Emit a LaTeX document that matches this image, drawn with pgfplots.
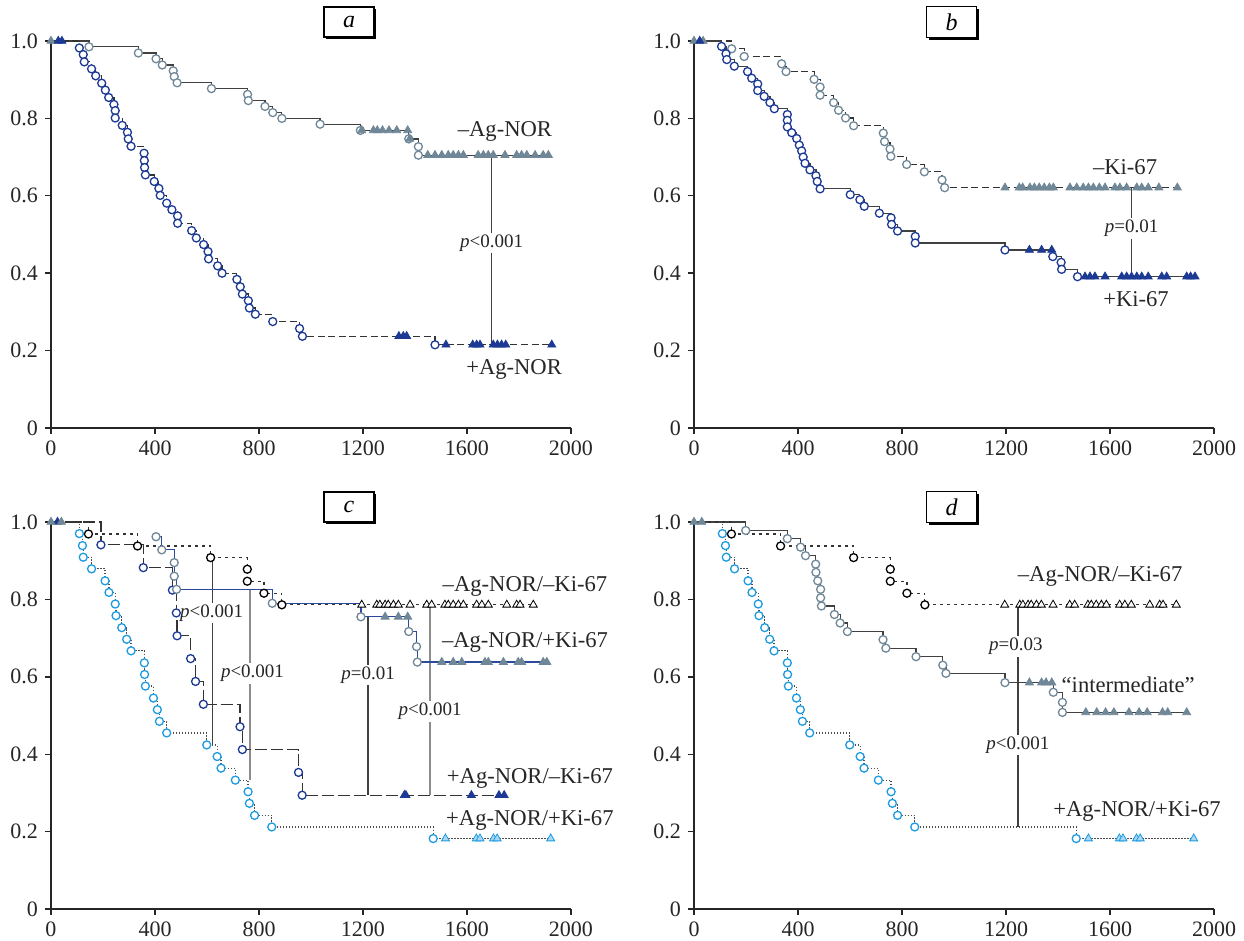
\documentclass[border=0pt]{standalone}
\usepackage{fontspec}
\setmainfont{Liberation Serif}
\usepackage{pgfplots}
\usepackage{pgfplotstable}
\pgfplotsset{compat=1.18}
\usetikzlibrary{shadows}

\definecolor{cGray}{HTML}{6F8797}
\definecolor{cNavy}{HTML}{1C3A94}
\definecolor{cCyan}{HTML}{1E9BE0}
\definecolor{cCyanF}{HTML}{A8D8F4}
\definecolor{cBlue}{HTML}{2C4A9C}

% Kaplan-Meier tables: t = days, s = survival, m = e (event) / c (censored) / n (no mark)
\pgfplotstableread{
t s m
0 1 c
146 0.985 e
336 0.969 e
404 0.954 e
428 0.938 e
470 0.923 e
474 0.908 e
485 0.892 e
617 0.877 e
756 0.862 e
759 0.846 e
823 0.831 e
853 0.815 e
888 0.800 e
1035 0.785 e
1190 0.769 e
1195 0.769 c
1240 0.769 c
1255 0.769 c
1275 0.769 c
1300 0.769 c
1330 0.769 c
1372 0.769 c
1376 0.747 e
1380 0.747 c
1413 0.727 e
1413 0.705 e
1449 0.705 c
1477 0.705 c
1503 0.705 c
1528 0.705 c
1547 0.705 c
1567 0.705 c
1586 0.705 c
1643 0.705 c
1663 0.705 c
1682 0.705 c
1701 0.705 c
1746 0.705 c
1791 0.705 c
1810 0.705 c
1830 0.705 c
1862 0.705 c
1893 0.705 c
1913 0.705 c
}\tAminus
\pgfplotstableread{
t s m
0 1 n
28 1 c
42 1 c
109 0.982 e
124 0.965 e
128 0.946 e
156 0.928 e
172 0.910 e
195 0.891 e
209 0.873 e
222 0.854 e
242 0.836 e
247 0.820 e
247 0.801 e
274 0.782 e
294 0.764 e
297 0.747 e
308 0.728 e
358 0.710 e
359 0.691 e
360 0.673 e
363 0.654 e
397 0.637 e
415 0.619 e
420 0.601 e
445 0.581 e
465 0.564 e
487 0.548 e
487 0.529 e
541 0.510 e
559 0.491 e
587 0.474 e
604 0.456 e
606 0.437 e
641 0.419 e
658 0.400 e
715 0.384 e
728 0.365 e
736 0.346 e
759 0.329 e
763 0.310 e
786 0.294 e
853 0.275 e
956 0.257 e
967 0.237 e
1338 0.237 c
1355 0.237 c
1368 0.237 c
1477 0.215 e
1519 0.215 c
1622 0.215 c
1637 0.215 c
1650 0.215 c
1701 0.215 c
1717 0.215 c
1733 0.215 c
1749 0.215 c
1926 0.215 c
}\tAplus
\pgfplotstableread{
t s m
0 1 c
35 1 c
145 0.980 e
193 0.960 e
337 0.941 e
354 0.921 e
462 0.901 e
485 0.881 e
485 0.860 e
537 0.841 e
556 0.821 e
583 0.801 e
614 0.781 e
728 0.762 e
733 0.740 e
754 0.721 e
757 0.702 e
818 0.681 e
886 0.662 e
954 0.641 e
964 0.621 e
1196 0.621 c
1251 0.621 c
1264 0.621 c
1292 0.621 c
1309 0.621 c
1328 0.621 c
1347 0.621 c
1367 0.621 c
1382 0.621 c
1446 0.621 c
1472 0.621 c
1497 0.621 c
1517 0.621 c
1536 0.621 c
1559 0.621 c
1581 0.621 c
1619 0.621 c
1638 0.621 c
1664 0.621 c
1703 0.621 c
1722 0.621 c
1747 0.621 c
1788 0.621 c
1859 0.621 c
}\tBminus
\pgfplotstableread{
t s m
0 1 n
22 1 c
106 0.986 e
123 0.967 e
126 0.952 e
155 0.935 e
206 0.921 e
222 0.904 e
245 0.889 e
245 0.872 e
270 0.857 e
292 0.841 e
309 0.825 e
359 0.810 e
359 0.795 e
359 0.778 e
376 0.763 e
395 0.748 e
405 0.731 e
414 0.716 e
420 0.700 e
427 0.684 e
446 0.667 e
469 0.652 e
474 0.637 e
485 0.618 e
601 0.603 e
638 0.590 e
655 0.573 e
713 0.555 e
758 0.543 e
760 0.526 e
783 0.509 e
851 0.495 e
851 0.478 e
1196 0.460 e
1290 0.460 c
1337 0.460 c
1376 0.460 c
1380 0.443 e
1412 0.428 e
1414 0.410 e
1475 0.391 e
1504 0.391 c
1523 0.391 c
1542 0.391 c
1581 0.391 c
1645 0.391 c
1664 0.391 c
1683 0.391 c
1703 0.391 c
1722 0.391 c
1747 0.391 c
1799 0.391 c
1818 0.391 c
1895 0.391 c
1910 0.391 c
1927 0.391 c
}\tBplus
\pgfplotstableread{
t s m
0 1 n
144 0.969 e
333 0.938 e
614 0.908 e
755 0.878 e
755 0.847 e
819 0.816 e
888 0.786 e
1195 0.786 c
1253 0.786 c
1265 0.786 c
1285 0.786 c
1297 0.786 c
1317 0.786 c
1336 0.786 c
1381 0.786 c
1445 0.786 c
1464 0.786 c
1515 0.786 c
1528 0.786 c
1547 0.786 c
1567 0.786 c
1586 0.786 c
1637 0.786 c
1657 0.786 c
1682 0.786 c
1753 0.786 c
1791 0.786 c
1804 0.786 c
1855 0.786 c
}\tMM
\pgfplotstableread{
t s m
0 1 c
40 1 c
404 0.962 e
426 0.928 e
474 0.895 e
474 0.860 e
483 0.826 e
851 0.790 e
1192 0.755 e
1285 0.755 c
1336 0.755 c
1372 0.755 c
1376 0.717 e
1406 0.678 e
1409 0.638 e
1503 0.638 c
1547 0.638 c
1580 0.638 c
1669 0.638 c
1682 0.638 c
1740 0.638 c
1797 0.638 c
1810 0.638 c
1893 0.638 c
1907 0.638 c
}\tMP
\pgfplotstableread{
t s m
0 1 n
25 1 c
192 0.941 e
355 0.882 e
467 0.824 e
482 0.765 e
485 0.706 e
537 0.647 e
556 0.588 e
586 0.529 e
727 0.471 e
736 0.412 e
952 0.353 e
966 0.294 e
1359 0.294 c
1365 0.294 c
1617 0.294 c
1723 0.294 c
1743 0.294 c
}\tPM
\pgfplotstableread{
t s m
0 1 n
109 0.970 e
121 0.939 e
124 0.909 e
156 0.879 e
208 0.848 e
223 0.818 e
247 0.788 e
250 0.758 e
272 0.727 e
291 0.697 e
308 0.667 e
359 0.636 e
360 0.606 e
363 0.576 e
394 0.545 e
409 0.515 e
417 0.485 e
445 0.455 e
599 0.424 e
639 0.394 e
654 0.364 e
709 0.333 e
758 0.303 e
763 0.273 e
783 0.242 e
849 0.212 e
1470 0.182 e
1517 0.182 c
1636 0.182 c
1650 0.182 c
1702 0.182 c
1716 0.182 c
1922 0.182 c
}\tPP
\pgfplotstableread{
t s m
0 1 c
30 1 c
199 0.978 e
359 0.957 e
410 0.935 e
429 0.913 e
468 0.891 e
469 0.870 e
476 0.848 e
487 0.826 e
487 0.804 e
490 0.783 e
540 0.761 e
562 0.739 e
590 0.717 e
727 0.696 e
738 0.674 e
854 0.652 e
957 0.630 e
969 0.609 e
1196 0.585 e
1290 0.585 c
1337 0.585 c
1354 0.585 c
1376 0.585 c
1382 0.560 e
1417 0.534 e
1417 0.508 e
1507 0.508 c
1549 0.508 c
1583 0.508 c
1615 0.508 c
1673 0.508 c
1712 0.508 c
1743 0.508 c
1802 0.508 c
1822 0.508 c
1895 0.508 c
}\tInt

\pgfplotsset{
  km/.style={scale only axis, width=260pt, height=193.5pt,
    xmin=0, xmax=2000, ymin=0, ymax=1,
    axis lines=left, axis line style={-, line width=0.7pt, black!85},
    tick align=outside, major tick length=3pt,
    tick style={line width=0.7pt, black!85},
    xtick={0,400,800,1200,1600,2000}, xticklabels={0,400,800,1200,1600,2000},
    ytick={0,0.2,0.4,0.6,0.8,1}, yticklabels={0,0.2,0.4,0.6,0.8,1.0},
    ticklabel style={font=\fontsize{11}{13}\selectfont, text=black!85},
    clip=false},
}
\tikzset{
  ev/.style={mark=*, mark size=2pt, draw=#1, fill=white, line width=0.65pt},
  ce/.style={mark=triangle*, mark size=2.3pt, draw=#1, fill=#1, line width=0.4pt},
  pl/.style={line width=0.7pt, black!75},
  pg/.style={line width=0.7pt, black!45},
  ptx/.style={fill=white, inner sep=1pt, font=\fontsize{9.5}{11}\selectfont, text=black!85},
  lab/.style={font=\fontsize{11.3}{13}\selectfont, text=black!85},
  panel/.style={draw=black, fill=white, line width=0.6pt, minimum width=25pt, minimum height=15pt,
    font=\fontsize{12}{14}\selectfont\itshape,
    drop shadow={shadow xshift=1.2pt, shadow yshift=-1.2pt, opacity=1, fill=black}},
  dsh/.style={dash pattern=on 3.5pt off 1.8pt},
  sdsh/.style={dash pattern=on 1.5pt off 2pt},
  ldsh/.style={dash pattern=on 6pt off 2pt},
  dot/.style={dash pattern=on 0.7pt off 0.8pt},
}

% [#1] extra line options, #2 table, #3 line style, #4 event mark style, #5 censored mark style
\newcommand{\km}[5][]{%
  \addplot[#3, const plot, mark=none, line width=0.6pt, #1] table[x=t, y=s] {#2};
  \addplot[scatter, only marks, scatter src=explicit symbolic,
    scatter/classes={e={#4}, c={#5}, n={mark=none}}] table[x=t, y=s, meta=m] {#2};
}

\begin{document}
\begin{tikzpicture}
\path[use as bounding box] (0pt,0pt) rectangle (622pt,-470.5pt);

% a
\begin{axis}[km, at={(25.5pt,-214pt)}, anchor=south west]
\draw[pl] (axis cs:1695,0.705) -- (axis cs:1695,0.215);
\node[ptx] at (axis cs:1695,0.478) {\textit{p}<0.001};
\km{\tAminus}{black!75}{ev=cGray}{ce=cGray}
\km{\tAplus}{black!80, dsh}{ev=cNavy}{ce=cNavy}
\node[lab] at (axis cs:1746,0.765) {–Ag-NOR};
\node[lab] at (axis cs:1781,0.150) {+Ag-NOR};
\end{axis}

% b
\begin{axis}[km, at={(347pt,-214pt)}, anchor=south west]
\draw[pl] (axis cs:1683,0.621) -- (axis cs:1683,0.391);
\node[ptx] at (axis cs:1683,0.515) {\textit{p}=0.01};
\km{\tBminus}{black!80, dsh}{ev=cGray}{ce=cGray}
\km{\tBplus}{black!75}{ev=cNavy}{ce=cNavy}
\node[lab] at (axis cs:1658,0.675) {–Ki-67};
\node[lab] at (axis cs:1700,0.334) {+Ki-67};
\end{axis}

% c
\begin{axis}[km, at={(25.5pt,-454.5pt)}, anchor=south west]
\draw[pl] (axis cs:622,0.908) -- (axis cs:622,0.424);
\draw[pg] (axis cs:765,0.826) -- (axis cs:765,0.333);
\draw[pl] (axis cs:1220,0.755) -- (axis cs:1220,0.294);
\draw[pg] (axis cs:1458,0.786) -- (axis cs:1458,0.294);
\node[ptx] at (axis cs:618,0.765) {\textit{p}<0.001};
\node[ptx] at (axis cs:775,0.609) {\textit{p}<0.001};
\node[ptx] at (axis cs:1220,0.605) {\textit{p}=0.01};
\node[ptx] at (axis cs:1458,0.510) {\textit{p}<0.001};
\km{\tPP}{black!70, dot}{ev=cCyan}{ce=cCyan, fill=cCyanF}
\km{\tPM}{black!80, ldsh}{ev=cNavy}{ce=cNavy}
\km{\tMM}{black!80, sdsh}{ev=black}{ce=black, fill=white}
\km[restrict x to domain=400:2100]{\tMP}{cBlue}{ev=cGray}{ce=cGray}
\node[lab] at (axis cs:1823,0.833) {–Ag-NOR/–Ki-67};
\node[lab] at (axis cs:1823,0.690) {–Ag-NOR/+Ki-67};
\node[lab] at (axis cs:1842,0.338) {+Ag-NOR/–Ki-67};
\node[lab] at (axis cs:1842,0.228) {+Ag-NOR/+Ki-67};
\end{axis}

% d
\begin{axis}[km, at={(347pt,-454.5pt)}, anchor=south west]
\draw[pl] (axis cs:1246,0.786) -- (axis cs:1246,0.212);
\node[ptx] at (axis cs:1238,0.678) {\textit{p}=0.03};
\node[ptx] at (axis cs:1246,0.424) {\textit{p}<0.001};
\km{\tPP}{black!70, dot}{ev=cCyan}{ce=cCyan, fill=cCyanF}
\km{\tInt}{black!75}{ev=cGray}{ce=cGray}
\km{\tMM}{black!80, sdsh}{ev=black}{ce=black, fill=white}
\node[lab] at (axis cs:1562,0.860) {–Ag-NOR/–Ki-67};
\node[lab] at (axis cs:1670,0.579) {“intermediate”};
\node[lab] at (axis cs:1704,0.251) {+Ag-NOR/+Ki-67};
\end{axis}

\node[panel] at (174.5pt,-11pt) {a};
\node[panel] at (475.75pt,-11pt) {b};
\node[panel] at (174.5pt,-253.5pt) {c};
\node[panel] at (475.75pt,-253.5pt) {d};
\end{tikzpicture}
\end{document}
